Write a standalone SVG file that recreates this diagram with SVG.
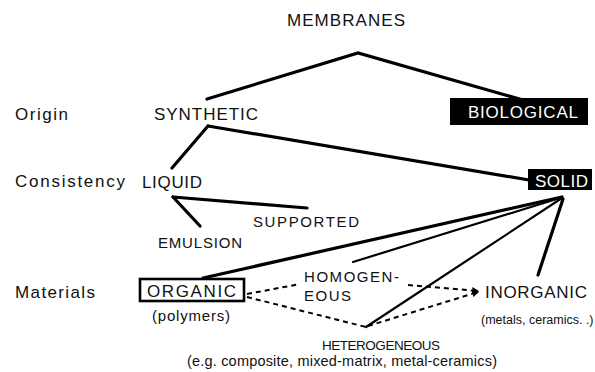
<svg xmlns="http://www.w3.org/2000/svg" width="595" height="372" viewBox="0 0 595 372">
<style>
text{font-family:"Liberation Sans",Arial,sans-serif;fill:#111}
.lbl{font-size:17px}
.sm{font-size:15px}
.xs{font-size:12.5px}
.inv{fill:#fff}
.ln{stroke:#000;stroke-linecap:round;fill:none}
.thick{stroke-width:3.2}
.med{stroke-width:2.2}
.dash{stroke:#000;stroke-width:2;stroke-dasharray:5 4;fill:none}
</style>
<defs>
<marker id="ah" viewBox="0 0 6 6" refX="5" refY="3" markerWidth="3.5" markerHeight="3.5" orient="auto">
<path d="M0,0 L6,3 L0,6 z" fill="#000"/>
</marker>
</defs>
<rect width="595" height="372" fill="#fff"/>

<g id="connectors">
<polyline class="ln thick" points="207,99 358,53 523,100"/>
<line class="ln thick" x1="208" y1="126" x2="172" y2="168"/>
<line class="ln thick" x1="208" y1="126" x2="529" y2="180"/>
<line class="ln thick" x1="173" y1="197" x2="200" y2="226"/>
<line class="ln thick" x1="173" y1="197" x2="307" y2="208"/>
<line class="ln thick" x1="562" y1="197" x2="203" y2="278"/>
<line class="ln med" x1="560" y1="198" x2="353" y2="262"/>
<line class="ln med" x1="562" y1="198" x2="366" y2="327"/>
<line class="ln thick" x1="563" y1="199" x2="538" y2="275"/>
<line class="dash" x1="247" y1="294" x2="300" y2="284"/>
<line class="dash" x1="408" y1="285" x2="478" y2="291" marker-end="url(#ah)"/>
<line class="dash" x1="247" y1="297" x2="366" y2="327"/>
<line class="dash" x1="368" y1="326" x2="478" y2="292" marker-end="url(#ah)"/>
</g>

<g id="row-labels">
<text class="lbl" x="15" y="120" textLength="53" lengthAdjust="spacing">Origin</text>
<text class="lbl" x="15" y="187" textLength="110" lengthAdjust="spacing">Consistency</text>
<text class="lbl" x="15" y="298" textLength="80" lengthAdjust="spacing">Materials</text>
</g>

<g id="membranes"><text class="lbl" x="287" y="26" textLength="118" lengthAdjust="spacing">MEMBRANES</text></g>
<g id="synthetic"><text class="lbl" x="154" y="120" textLength="104" lengthAdjust="spacing">SYNTHETIC</text></g>
<g id="biological">
<rect x="450" y="98" width="138" height="27" fill="#000"/>
<text class="lbl inv" x="468" y="118" textLength="110" lengthAdjust="spacing">BIOLOGICAL</text>
</g>
<g id="liquid"><text class="lbl" x="142" y="188" textLength="60" lengthAdjust="spacing">LIQUID</text></g>
<g id="solid">
<rect x="528" y="169" width="64" height="21" fill="#000"/>
<text class="lbl inv" x="535" y="187" textLength="53" lengthAdjust="spacing">SOLID</text>
</g>
<g id="supported"><text class="sm" x="253" y="227" textLength="106" lengthAdjust="spacing">SUPPORTED</text></g>
<g id="emulsion"><text class="sm" x="158" y="248" textLength="84" lengthAdjust="spacing">EMULSION</text></g>
<g id="organic">
<rect x="140" y="279" width="104" height="22" fill="#fff" stroke="#000" stroke-width="2.6"/>
<text class="lbl" x="147" y="297" textLength="89" lengthAdjust="spacing">ORGANIC</text>
<text class="sm" x="152" y="321" textLength="78" lengthAdjust="spacing">(polymers)</text>
</g>
<g id="homogeneous">
<text class="sm" x="304" y="282" textLength="95" lengthAdjust="spacing">HOMOGEN-</text>
<text class="sm" x="304" y="301" textLength="47" lengthAdjust="spacing">EOUS</text>
</g>
<g id="inorganic">
<text class="lbl" x="485" y="298" textLength="102" lengthAdjust="spacing">INORGANIC</text>
<text class="xs" x="481" y="324">(metals, ceramics. .)</text>
</g>
<g id="heterogeneous">
<text style="font-size:13.5px" x="322" y="350" textLength="118" lengthAdjust="spacing">HETEROGENEOUS</text>
<text style="font-size:14.5px" x="187" y="366" textLength="310" lengthAdjust="spacing">(e.g. composite, mixed-matrix, metal-ceramics)</text>
</g>
</svg>
